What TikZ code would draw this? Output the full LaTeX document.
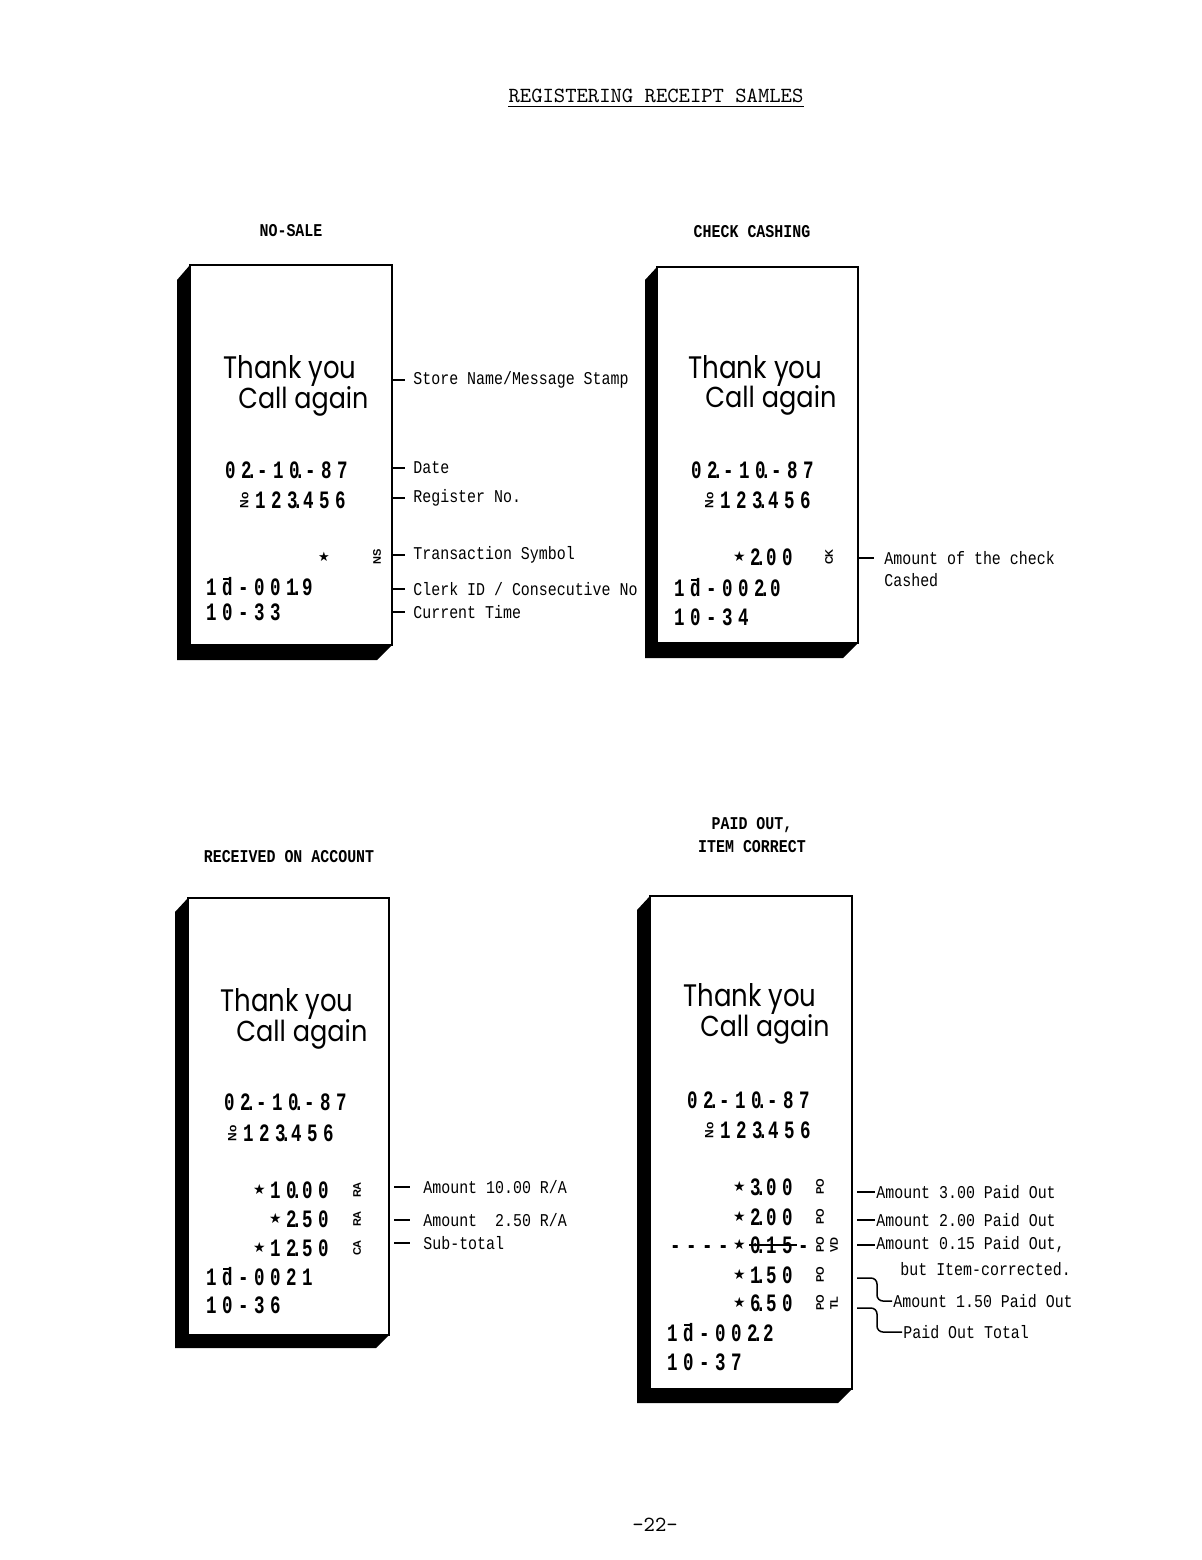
\documentclass[tikz,border=0pt]{standalone}
\usepackage{fontspec}
\usepackage{graphicx}
\newfontfamily\lf[FakeStretch=0.83]{Liberation Mono}
\newfontfamily\rf[FakeStretch=0.7]{Liberation Mono}
\newfontfamily\thx{Poppins}
\newfontfamily\dv{DejaVu Sans}
\newfontfamily\cf{Liberation Sans}
\ExplSyntaxOn
\NewDocumentCommand\pr{m}{\tl_map_inline:nn{#1}{\makebox[8pt]{##1}}}
\ExplSyntaxOff
\newcommand\dpt{\rlap{\kern-0.2em.}}
\newcommand\stg{\raisebox{1.6pt}{\dv\fontsize{7}{7}\selectfont ★}}
\newcommand\nog{\rotatebox{90}{\cf\bfseries\fontsize{6}{6}\selectfont No}}
\newcommand\clk{\ooalign{d\cr\kern0.05em\rule[0.62em]{0.3em}{0.07em}\hfil\cr}}
\begin{document}
\begin{tikzpicture}[x=0.5pt,y=-0.5pt,
  rtx/.style={inner sep=0pt, anchor=base west, font=\rf\bfseries\fontsize{12.5}{12.5}\selectfont},
  thk/.style={inner sep=0pt, anchor=base west},
  code/.style={inner sep=0pt, rotate=90, font=\cf\bfseries\fontsize{5.5}{5.5}\selectfont},
  lab/.style={anchor=west, inner ysep=0pt, font=\lf\fontsize{9}{10}\selectfont},
  hd/.style={inner sep=0pt, font=\lf\bfseries\fontsize{9}{10}\selectfont},
  tick/.style={line width=0.75pt},
  shadowband/.style={fill=black},
  paper/.style={fill=white, draw=black, line width=1pt}]
\useasboundingbox (0,0) rectangle (1202,1560);
\fill[white] (0,0) rectangle (1202,1560);

% title
\node[inner sep=0pt, font=\ttfamily\fontsize{10.8}{12}\selectfont] (title) at (656,96) {REGISTERING RECEIPT SAMLES};
\draw[line width=0.8pt] ([yshift=-1.6pt]title.south west) -- ([yshift=-1.6pt]title.south east);
\node[inner sep=0pt, font=\ttfamily\fontsize{10.8}{12}\selectfont] (page) at (655,1525) {-22-};

% headings
\node[hd] (h1) at (291,231) {NO-SALE};
\node[hd] (h2) at (752,232) {CHECK CASHING};
\node[hd] (h3) at (289,857) {RECEIVED ON ACCOUNT};
\node[hd] (h4a) at (752,825) {PAID OUT,};
\node[hd] (h4b) at (752,847) {ITEM CORRECT};

% ---------- receipt 1 ----------
\fill[shadowband] (177,280) -- (190,265) -- (190,645) -- (392,645) -- (377,660) -- (177,660) -- cycle;
\draw[paper] (190,265) rectangle (392,645);
\node[thk] (r1a) at (223,378) {\resizebox{66.5pt}{11.5pt}{\thx Thank you}};
\node[thk] (r1b) at (238,408) {\resizebox{65pt}{11pt}{\thx Call again}};
\node[rtx] (r1d) at (222,478) {\pr{0{2\dpt}-1{0\dpt}-87}};
\node[rtx] (r1r) at (236,508) {\pr{{\nog}12{3\dpt}456}};
\node[inner sep=0pt] (r1s) at (324,557) {\dv\fontsize{6.5}{6.5}\selectfont ★};
\node[code] (r1c) at (377,557) {NS};
\node[rtx] (r1k) at (203,595) {\pr{1{\clk}-00{1\dpt}9}};
\node[rtx] (r1t) at (203,620) {\pr{10-33}};
\foreach \y/\t [count=\i] in {380/{Store Name/Message Stamp}, 468/Date, 498/Register No., 555/Transaction Symbol, 589/{Clerk ID / Consecutive No}, 612/Current Time}{
  \coordinate (e1\i) at (392,\y);
  \node[lab, inner xsep=4pt] (l1\i) at (405,\y) {\t};
  \draw[tick] (e1\i) -- (l1\i.west);
}

% ---------- receipt 2 ----------
\fill[shadowband] (645,280) -- (657,267) -- (657,643) -- (858,643) -- (843,658) -- (645,658) -- cycle;
\draw[paper] (657,267) rectangle (858,643);
\node[thk] (r2a) at (688,378) {\resizebox{67pt}{11.5pt}{\thx Thank you}};
\node[thk] (r2b) at (705,407) {\resizebox{65.5pt}{11pt}{\thx Call again}};
\node[rtx] (r2d) at (688,478) {\pr{0{2\dpt}-1{0\dpt}-87}};
\node[rtx] (r2r) at (701,508) {\pr{{\nog}12{3\dpt}456}};
\node[rtx] (r2v) at (731,565) {\pr{{\stg}{2\dpt}00}};
\node[code] (r2c) at (829,557) {CK};
\node[rtx] (r2k) at (671,596) {\pr{1{\clk}-00{2\dpt}0}};
\node[rtx] (r2t) at (671,625) {\pr{10-34}};
\coordinate (e21) at (858,558);
\node[lab, inner xsep=5pt] (l21) at (874,558) {Amount of the check};
\node[lab, inner xsep=5pt] (l22) at (874,580) {Cashed};
\draw[tick] (e21) -- (l21.west);

% ---------- receipt 3 ----------
\fill[shadowband] (175,912) -- (188,898) -- (188,1335) -- (389,1335) -- (376,1348) -- (175,1348) -- cycle;
\draw[paper] (188,898) rectangle (389,1335);
\node[thk] (r3a) at (220,1011) {\resizebox{66.5pt}{11.5pt}{\thx Thank you}};
\node[thk] (r3b) at (236,1041) {\resizebox{65.5pt}{11pt}{\thx Call again}};
\node[rtx] (r3d) at (221,1110) {\pr{0{2\dpt}-1{0\dpt}-87}};
\node[rtx] (r3r) at (224,1141) {\pr{{\nog}12{3\dpt}456}};
\node[rtx] (r3v1) at (251,1198) {\pr{{\stg}1{0\dpt}00}};
\node[rtx] (r3v2) at (267,1227) {\pr{{\stg}{2\dpt}50}};
\node[rtx] (r3v3) at (251,1256) {\pr{{\stg}1{2\dpt}50}};
\node[code] (r3c1) at (357,1190) {RA};
\node[code] (r3c2) at (357,1219) {RA};
\node[code] (r3c3) at (357,1248) {CA};
\node[rtx] (r3k) at (203,1285) {\pr{1{\clk}-0021}};
\node[rtx] (r3t) at (203,1313) {\pr{10-36}};
\foreach \y/\t [count=\i] in {1187/{Amount 10.00 R/A}, 1220/{Amount\ \ 2.50 R/A}, 1243/Sub-total}{
  \coordinate (e3\i) at (394,\y);
  \node[lab, inner xsep=6.5pt] (l3\i) at (410,\y) {\t};
  \draw[tick] (e3\i) -- (l3\i.west);
}

% ---------- receipt 4 ----------
\fill[shadowband] (637,910) -- (650,896) -- (650,1389) -- (852,1389) -- (838,1403) -- (637,1403) -- cycle;
\draw[paper] (650,896) rectangle (852,1389);
\node[thk] (r4a) at (683,1006) {\resizebox{66.5pt}{11.5pt}{\thx Thank you}};
\node[thk] (r4b) at (700,1036) {\resizebox{64.5pt}{11pt}{\thx Call again}};
\node[rtx] (r4d) at (684,1108) {\pr{0{2\dpt}-1{0\dpt}-87}};
\node[rtx] (r4r) at (701,1138) {\pr{{\nog}12{3\dpt}456}};
\node[rtx] (r4v1) at (731,1195) {\pr{{\stg}{3\dpt}00}};
\node[rtx] (r4v2) at (731,1225) {\pr{{\stg}{2\dpt}00}};
\node[rtx] (r4v3) at (667,1253) {\pr{----{\stg}{0\dpt}15-}};
\draw[line width=0.9pt] (749,1245) -- (797,1245);
\node[rtx] (r4v4) at (731,1283) {\pr{{\stg}{1\dpt}50}};
\node[rtx] (r4v5) at (731,1311) {\pr{{\stg}{6\dpt}50}};
\node[code] (r4c1) at (820,1187) {PO};
\node[code] (r4c2) at (820,1217) {PO};
\node[code] (r4c3) at (820,1245) {PO};
\node[code] (r4c4) at (820,1275) {PO};
\node[code] (r4c5) at (820,1303) {PO};
\node[code] (r4c6) at (834,1245) {VD};
\node[code] (r4c7) at (834,1303) {TL};
\node[rtx] (r4k) at (664,1341) {\pr{1{\clk}-00{2\dpt}2}};
\node[rtx] (r4t) at (664,1370) {\pr{10-37}};
\foreach \y/\t [count=\i] in {1192/Amount 3.00 Paid Out, 1220/Amount 2.00 Paid Out, 1245/{Amount 0.15 Paid Out,}}{
  \coordinate (e4\i) at (857,\y);
  \node[lab, inner xsep=0.5pt] (l4\i) at (875,\y) {\t};
  \draw[tick] (e4\i) -- (l4\i.west);
}
\node[lab, inner xsep=0pt] (l44) at (900,1269) {but Item-corrected.};
\coordinate (e45) at (857,1278);
\node[lab, inner xsep=0.5pt] (l45) at (892,1301) {Amount 1.50 Paid Out};
\draw[tick, rounded corners=3pt] (e45) -- (877,1278) -- (877,1301) -- (l45.west);
\coordinate (e46) at (857,1308);
\node[lab, inner xsep=0.5pt] (l46) at (902,1332) {Paid Out Total};
\draw[tick, rounded corners=3pt] (e46) -- (877,1308) -- (877,1332) -- (l46.west);
\end{tikzpicture}
\end{document}
